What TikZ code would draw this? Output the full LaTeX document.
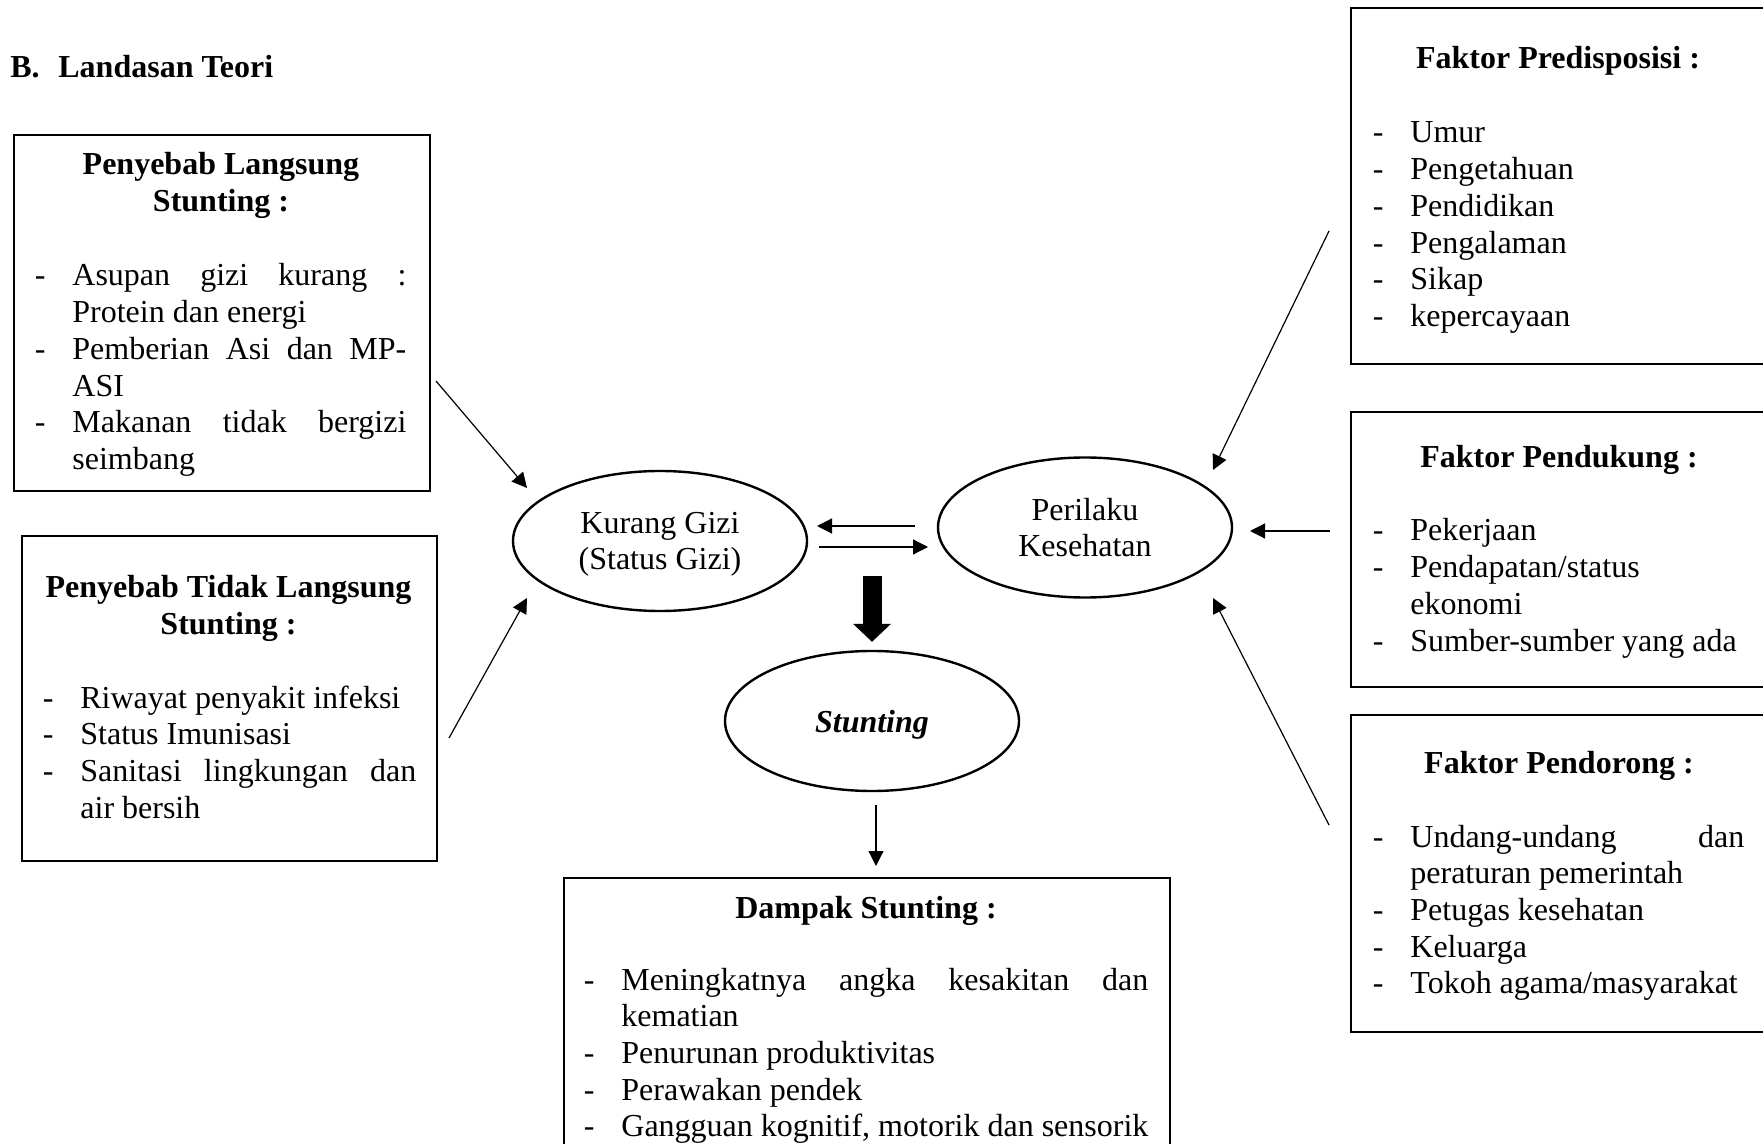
\documentclass[tikz,border=0pt]{standalone}
\usepackage{fontspec}
\setmainfont{Liberation Serif}
\usetikzlibrary{arrows.meta,shapes.geometric}
\newcommand{\fs}{\fontsize{16pt}{18.35pt}\selectfont}
\newcommand{\itm}[1]{\leavevmode\llap{\makebox[18.8pt][l]{-}}#1}
\newcommand{\jst}[1]{\makebox[\linewidth][s]{#1}}
\newcommand{\itemlist}[2]{\parbox[t]{#1}{\raggedright #2}}
\newcommand{\ttlbox}[1]{\parbox[t]{205pt}{\centering #1}}

\begin{document}
\begin{tikzpicture}[x=0.5pt,y=-0.5pt,font=\fs,
  box/.style={draw,line width=1.2pt,anchor=north west,inner sep=0pt,minimum width=208pt},
  oval/.style={draw,ellipse,line width=1.2pt,minimum width=147pt,minimum height=70pt,inner sep=0pt,align=center},
  ttl/.style={anchor=base,inner sep=0pt,font=\fs\bfseries},
  lst/.style={anchor=base west,inner sep=0pt},
  arr/.style={line width=0.6pt,-{Triangle[length=7.5pt,width=7.5pt]}},
  bigarr/.style={line width=9.5pt,-{Triangle[length=9pt,width=19pt,line width=0pt]}}]
  \useasboundingbox (0,0) rectangle (1763,1144);
  \clip (0,0) rectangle (1763,1144);
  % ---------- heading
  \node[lst,font=\fs\bfseries] (head) at (10,78) {\makebox[24pt][l]{B.}Landasan Teori};
  % ---------- causes (left)
  \node[box,minimum height=178pt] (lgs) at (13,134) {};
  \node[ttl] (lgs-t) at (221,175) {\ttlbox{Penyebab Langsung\\Stunting :}};
  \node[lst] (lgs-l) at (72,286) {\itemlist{167pt}{\itm{\jst{Asupan gizi kurang :}}\\Protein dan energi\\
    \itm{\jst{Pemberian Asi dan MP-}}\\ASI\\\itm{\jst{Makanan tidak bergizi}}\\seimbang}};
  \node[box,minimum width=207.5pt,minimum height=162.5pt] (tlgs) at (21,535) {};
  \node[ttl] (tlgs-t) at (228.5,598) {\ttlbox{Penyebab Tidak Langsung\\Stunting :}};
  \node[lst] (tlgs-l) at (80,708) {\itemlist{168pt}{\itm{Riwayat penyakit infeksi}\\\itm{Status Imunisasi}\\
    \itm{\jst{Sanitasi lingkungan dan}}\\air bersih}};
  % ---------- factors (right)
  \node[box,minimum height=178pt] (pre) at (1350,7) {};
  \node[ttl] (pre-t) at (1558,69) {Faktor Predisposisi :};
  \node[lst] (pre-l) at (1410,143) {\itemlist{167pt}{\itm{Umur}\\\itm{Pengetahuan}\\\itm{Pendidikan}\\
    \itm{Pengalaman}\\\itm{Sikap}\\\itm{kepercayaan}}};
  \node[box,minimum height=137.5pt] (pdk) at (1350,411) {};
  \node[ttl] (pdk-t) at (1559,468) {Faktor Pendukung :};
  \node[lst] (pdk-l) at (1410,541) {\itemlist{167pt}{\itm{Pekerjaan}\\\itm{Pendapatan/status}\\ekonomi\\
    \itm{Sumber-sumber yang ada}}};
  \node[box,minimum height=158.5pt] (pdr) at (1350,714) {};
  \node[ttl] (pdr-t) at (1559,773) {Faktor Pendorong :};
  \node[lst] (pdr-l) at (1410,847) {\itemlist{167pt}{\itm{\jst{Undang-undang dan}}\\peraturan pemerintah\\
    \itm{Petugas kesehatan}\\\itm{Keluarga}\\\itm{Tokoh agama/masyarakat}}};
  % ---------- centre
  \node[oval,text depth=0pt] (kg) at (660,541) {Kurang Gizi\\(Status Gizi)};
  \node[oval] (pk) at (1085,527.5) {Perilaku\\Kesehatan};
  \node[oval,text depth=0pt,font=\fs\bfseries\itshape] (st) at (872,721) {Stunting};
  % ---------- impact
  \node[box,minimum width=303pt,minimum height=150pt] (dmp) at (563,877) {};
  \node[ttl] (dmp-t) at (866,918) {Dampak Stunting :};
  \node[lst] (dmp-l) at (621,990) {\itemlist{263.5pt}{\itm{\jst{Meningkatnya angka kesakitan dan}}\\kematian\\
    \itm{Penurunan produktivitas}\\\itm{Perawakan pendek}\\\itm{Gangguan kognitif, motorik dan sensorik}}};
  % ---------- connectors
  \coordinate (lgs-o) at (436,381);   \coordinate (kg-i1) at (527,488);
  \coordinate (tlgs-o) at (449,738);  \coordinate (kg-i2) at (527,598);
  \coordinate (kg-o) at (819,547);    \coordinate (pk-i) at (928,547);
  \coordinate (pk-o) at (915,526);    \coordinate (kg-i3) at (817,526);
  \coordinate (pre-o) at (1329,231);  \coordinate (pk-i1) at (1213,470);
  \coordinate (pdk-o) at (1330,531);  \coordinate (pk-i2) at (1250,531);
  \coordinate (pdr-o) at (1329,825);  \coordinate (pk-i3) at (1213,598);
  \coordinate (st-o) at (876,805);    \coordinate (dmp-i) at (876,866);
  \coordinate (mid) at (872,576);
  \foreach \a/\b in {lgs-o/kg-i1,tlgs-o/kg-i2,kg-o/pk-i,pk-o/kg-i3,pre-o/pk-i1,pdk-o/pk-i2,pdr-o/pk-i3,st-o/dmp-i}
    \draw[arr] (\a) -- (\b);
  \draw[bigarr,shorten >=4pt] (mid) -- (st);
\end{tikzpicture}
\end{document}
